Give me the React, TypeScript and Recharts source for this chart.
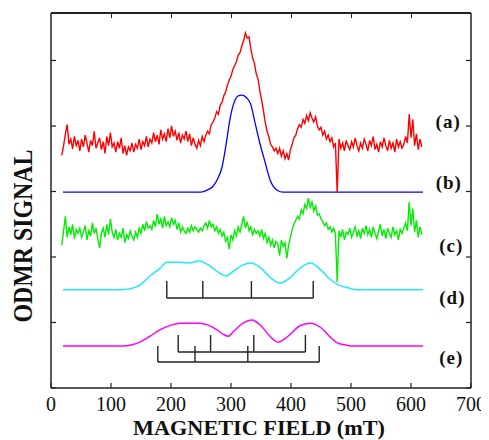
import { LineChart, Line, XAxis, YAxis, ReferenceLine, ReferenceDot } from "recharts";

// noisy traces are sampled every 3 mT from 18 to 618 mT
const fieldStart = 18;
const fieldStep = 3;

const redSignal = [
  3.55, 3.70, 3.88, 4.02, 3.72, 3.80, 3.65, 3.84, 3.70, 3.78,
  3.62, 3.80, 3.68, 3.86, 3.74, 3.60, 3.78, 3.70, 3.92, 3.66,
  3.74, 3.82, 3.64, 3.76, 3.58, 3.84, 3.70, 3.90, 3.68, 3.74,
  3.60, 3.76, 3.66, 3.82, 3.58, 3.70, 3.55, 3.68, 3.62, 3.74,
  3.60, 3.72, 3.66, 3.80, 3.64, 3.76, 3.70, 3.84, 3.68, 3.80,
  3.74, 3.90, 3.76, 3.86, 3.72, 3.94, 3.80, 3.88, 3.76, 3.96,
  3.82, 4.00, 3.84, 3.92, 3.78, 3.90, 3.74, 3.86, 3.80, 3.92,
  3.76, 3.88, 3.70, 3.82, 3.72, 3.66, 3.78, 3.70, 3.84, 3.76,
  3.86, 3.92, 3.88, 4.02, 4.06, 4.12, 4.22, 4.18, 4.32, 4.36,
  4.46, 4.52, 4.62, 4.70, 4.76, 4.86, 4.92, 4.98, 5.08, 5.12,
  5.22, 5.30, 5.42, 5.34, 5.36, 5.18, 5.04, 4.96, 4.80, 4.72,
  4.54, 4.40, 4.24, 4.06, 3.92, 3.84, 3.72, 3.68, 3.62, 3.66,
  3.58, 3.66, 3.54, 3.62, 3.50, 3.58, 3.48, 3.64, 3.72, 3.82,
  3.86, 3.96, 4.02, 3.98, 4.10, 4.04, 4.16, 4.08, 4.20, 4.12,
  4.06, 4.14, 4.00, 3.94, 3.98, 3.86, 3.92, 3.80, 3.86, 3.76,
  3.82, 3.68, 3.74, 2.98, 3.80, 3.66, 3.74, 3.62, 3.78, 3.70,
  3.64, 3.76, 3.68, 3.82, 3.70, 3.62, 3.74, 3.66, 3.80, 3.72,
  3.62, 3.78, 3.70, 3.84, 3.64, 3.72, 3.60, 3.76, 3.68, 3.82,
  3.70, 3.62, 3.78, 3.66, 3.74, 3.60, 3.80, 3.68, 3.76, 3.66,
  3.72, 3.84, 3.74, 4.18, 3.82, 4.10, 3.70, 3.88, 3.64, 3.80,
  3.68,
];

const greenSignal = [
  2.18, 2.40, 2.62, 2.30, 2.46, 2.34, 2.50, 2.28, 2.42, 2.36,
  2.44, 2.30, 2.38, 2.48, 2.26, 2.40, 2.32, 2.52, 2.36, 2.44,
  2.28, 2.14, 2.36, 2.44, 2.30, 2.50, 2.34, 2.58, 2.38, 2.30,
  2.42, 2.26, 2.36, 2.30, 2.44, 2.22, 2.34, 2.28, 2.40, 2.32,
  2.26, 2.38, 2.30, 2.44, 2.36, 2.50, 2.40, 2.54, 2.44, 2.48,
  2.42, 2.56, 2.46, 2.66, 2.50, 2.58, 2.44, 2.62, 2.48, 2.54,
  2.46, 2.60, 2.50, 2.56, 2.42, 2.52, 2.38, 2.46, 2.40, 2.36,
  2.44, 2.38, 2.48, 2.40, 2.46, 2.42, 2.38, 2.44, 2.40, 2.48,
  2.52, 2.44, 2.56, 2.46, 2.50, 2.40, 2.46, 2.36, 2.42, 2.32,
  2.38, 2.24, 2.30, 2.12, 2.34, 2.26, 2.40, 2.32, 2.46, 2.38,
  2.50, 2.62, 2.44, 2.54, 2.40, 2.46, 2.34, 2.42, 2.36, 2.40,
  2.32, 2.42, 2.28, 2.36, 2.22, 2.30, 2.18, 2.26, 2.14, 2.24,
  2.20, 2.02, 2.26, 2.16, 2.22, 1.98, 2.18, 2.30, 2.42, 2.50,
  2.56, 2.62, 2.58, 2.72, 2.66, 2.80, 2.74, 2.90, 2.76, 2.84,
  2.70, 2.78, 2.64, 2.66, 2.58, 2.54, 2.48, 2.52, 2.42, 2.46,
  2.38, 2.44, 2.36, 1.62, 2.40, 2.30, 2.42, 2.26, 2.38, 2.34,
  2.44, 2.30, 2.38, 2.46, 2.32, 2.40, 2.28, 2.44, 2.36, 2.48,
  2.34, 2.42, 2.30, 2.46, 2.36, 2.28, 2.40, 2.50, 2.32, 2.42,
  2.28, 2.44, 2.36, 2.30, 2.46, 2.34, 2.40, 2.26, 2.42, 2.36,
  2.44, 2.52, 2.40, 2.84, 2.48, 2.74, 2.38, 2.56, 2.30, 2.46,
  2.34,
];

// (b) simulated single line
const blueField = [20, 250, 260, 270, 277, 285, 293, 298, 307, 312, 318, 332, 340, 348, 357, 365, 377, 387, 620];
const blueSignal = [2.99, 2.99, 3.02, 3.08, 3.18, 3.37, 3.79, 4.09, 4.40, 4.46, 4.47, 4.35, 4.05, 3.74, 3.44, 3.18, 3.02, 2.99, 2.99];

// (d) simulation
const cyanField = [20, 115, 130, 148, 165, 182, 193, 210, 230, 247, 265, 280, 292, 305, 320, 334, 350, 365, 382, 398, 415, 432, 450, 465, 480, 495, 510, 620];
const cyanSignal = [1.50, 1.50, 1.51, 1.57, 1.71, 1.83, 1.92, 1.92, 1.91, 1.94, 1.86, 1.76, 1.71, 1.79, 1.88, 1.91, 1.83, 1.69, 1.60, 1.68, 1.83, 1.91, 1.80, 1.66, 1.57, 1.53, 1.50, 1.50];

// (e) simulation
const magentaField = [20, 118, 135, 148, 165, 182, 200, 215, 248, 262, 275, 287, 295, 305, 320, 335, 350, 365, 378, 395, 415, 432, 450, 465, 477, 490, 503, 620];
const magentaSignal = [0.64, 0.64, 0.66, 0.70, 0.79, 0.89, 0.96, 0.99, 0.99, 0.96, 0.90, 0.82, 0.79, 0.87, 0.99, 1.04, 0.95, 0.79, 0.70, 0.79, 0.95, 0.99, 0.92, 0.78, 0.69, 0.66, 0.64, 0.64];

// stick diagrams (line positions, mT)
const dSticks = [193, 253, 334, 437];
const eUpperSticks = [212, 266, 338, 424];
const eLowerSticks = [178, 240, 328, 447];
const dStickLevel = [1.374, 1.634];
const eUpperLevel = [0.55, 0.81];
const eLowerLevel = [0.397, 0.641];

const traceNames = ["(a)", "(b)", "(c)", "(d)", "(e)"];
const traceNameField = [662, 663, 667, 669, 667];
const traceNameLevel = [4.07, 3.14, 2.18, 1.38, 0.47];

const xTicks = [0, 100, 200, 300, 400, 500, 600, 700];
const yTicks = [0, 1, 2, 3, 4, 5];
const yMax = 5.725;

const serif = "'Liberation Serif', 'Times New Roman', Times, serif";
const axisColor = "#222";

// plot frame in page pixels (used only for the top border overlay)
const plotLeft = 51;
const plotTop = 13;
const plotWidth = 420;

const noisy = (vals: number[]) => vals.map((v, i) => ({ x: fieldStart + i * fieldStep, v }));
const paired = (xs: number[], vs: number[]) => xs.map((x, i) => ({ x, v: vs[i] }));

const redData = noisy(redSignal);
const greenData = noisy(greenSignal);
const blueData = paired(blueField, blueSignal);
const cyanData = paired(cyanField, cyanSignal);
const magentaData = paired(magentaField, magentaSignal);

const BottomTick = ({ x, y, payload }: any) => (
  <g>
    <line x1={x} x2={x} y1={y} y2={y - 5} stroke={axisColor} strokeWidth={1.2} />
    <text x={x} y={y + 23} textAnchor="middle" fontFamily={serif} fontSize={20} fill="#111">
      {payload.value}
    </text>
  </g>
);
const LeftTick = ({ x, y }: any) => <line x1={x} x2={x + 5} y1={y} y2={y} stroke={axisColor} strokeWidth={1.2} />;
const RightTick = ({ x, y }: any) => <line x1={x} x2={x - 5} y1={y} y2={y} stroke={axisColor} strokeWidth={1.2} />;

const XTitle = () => (
  <text x={259} y={435} textAnchor="middle" fontFamily={serif} fontWeight="bold" fontSize={22}
    textLength={252} lengthAdjust="spacingAndGlyphs" fill="#111">
    MAGNETIC FIELD (mT)
  </text>
);
const YTitle = () => (
  <text x={32} y={236} transform="rotate(-90, 32, 236)" textAnchor="middle" fontFamily={serif}
    fontWeight="bold" fontSize={27} textLength={173} lengthAdjust="spacingAndGlyphs" fill="#111">
    ODMR SIGNAL
  </text>
);

const sticks = (positions: number[], level: number[], key: string) => [
  <ReferenceLine key={key + "-base"} segment={[{ x: positions[0], y: level[0] }, { x: positions[positions.length - 1], y: level[0] }]}
    stroke="#222" strokeWidth={1.4} />,
  ...positions.map((p, i) => (
    <ReferenceLine key={key + i} segment={[{ x: p, y: level[0] }, { x: p, y: level[1] }]} stroke="#222" strokeWidth={1.4} />
  )),
];

export default function App() {
  return (
    <div style={{ marginTop: -8, marginLeft: -8, position: "relative", width: 489, height: 440 }}>
      <LineChart width={489} height={440} margin={{ top: 13, right: 13, bottom: 22, left: 21 }}>
        <XAxis type="number" dataKey="x" domain={[0, 700]} ticks={xTicks} interval={0} height={30}
          tickSize={0} tickMargin={0} tickLine={false} tick={BottomTick}
          axisLine={{ stroke: axisColor, strokeWidth: 1.5 }} allowDataOverflow />
        <YAxis type="number" domain={[0, yMax]} ticks={yTicks} interval={0} width={30}
          tickSize={0} tickMargin={0} tickLine={false} tick={LeftTick}
          axisLine={{ stroke: axisColor, strokeWidth: 1.5 }} allowDataOverflow />
        <YAxis yAxisId="right" orientation="right" type="number" domain={[0, yMax]} ticks={yTicks} interval={0} width={5}
          tickSize={0} tickMargin={0} tickLine={false} tick={RightTick}
          axisLine={{ stroke: axisColor, strokeWidth: 1.5 }} allowDataOverflow />

        <ReferenceLine y={yMax} stroke={axisColor} strokeWidth={1.5} ifOverflow="visible" />

        <Line data={blueData} dataKey="v" type="monotone" stroke="#0000ff" strokeWidth={1.3} dot={false} isAnimationActive={false} />
        <Line data={cyanData} dataKey="v" type="monotone" stroke="#22e8ff" strokeWidth={1.5} dot={false} isAnimationActive={false} />
        <Line data={magentaData} dataKey="v" type="monotone" stroke="#ff00ff" strokeWidth={1.5} dot={false} isAnimationActive={false} />
        <Line data={greenData} dataKey="v" type="linear" stroke="#00ee00" strokeWidth={1.4} dot={false} isAnimationActive={false} />
        <Line data={redData} dataKey="v" type="linear" stroke="#ff0000" strokeWidth={1.4} dot={false} isAnimationActive={false} />

        {sticks(dSticks, dStickLevel, "d")}
        {sticks(eUpperSticks, eUpperLevel, "eu")}
        {sticks(eLowerSticks, eLowerLevel, "el")}

        {traceNames.map((name, i) => (
          <ReferenceDot key={name} x={traceNameField[i]} y={traceNameLevel[i]} r={0} fill="none" stroke="none"
            label={({ viewBox }: any) => (
              <text x={viewBox.x + viewBox.width / 2} y={viewBox.y + viewBox.height / 2} dy="0.35em" textAnchor="middle"
                fontFamily={serif} fontWeight="bold" fontSize={19} letterSpacing={1} fill="#111">
                {name}
              </text>
            )} />
        ))}

        <ReferenceDot x={0} y={0} r={0} fill="none" stroke="none" ifOverflow="visible" label={XTitle} />
        <ReferenceDot x={0} y={yMax} r={0} fill="none" stroke="none" ifOverflow="visible" label={YTitle} />
      </LineChart>

      {/* top border of the frame with inward ticks */}
      <div style={{ position: "absolute", left: plotLeft, top: plotTop - 1, width: plotWidth, height: 0, borderTop: `2px solid ${axisColor}` }} />
      {xTicks.slice(1, -1).map((t) => (
        <div key={t} style={{ position: "absolute", left: plotLeft + (t / 700) * plotWidth - 0.5, top: plotTop, width: 0, height: 5, borderLeft: `1.2px solid ${axisColor}` }} />
      ))}
    </div>
  );
}
